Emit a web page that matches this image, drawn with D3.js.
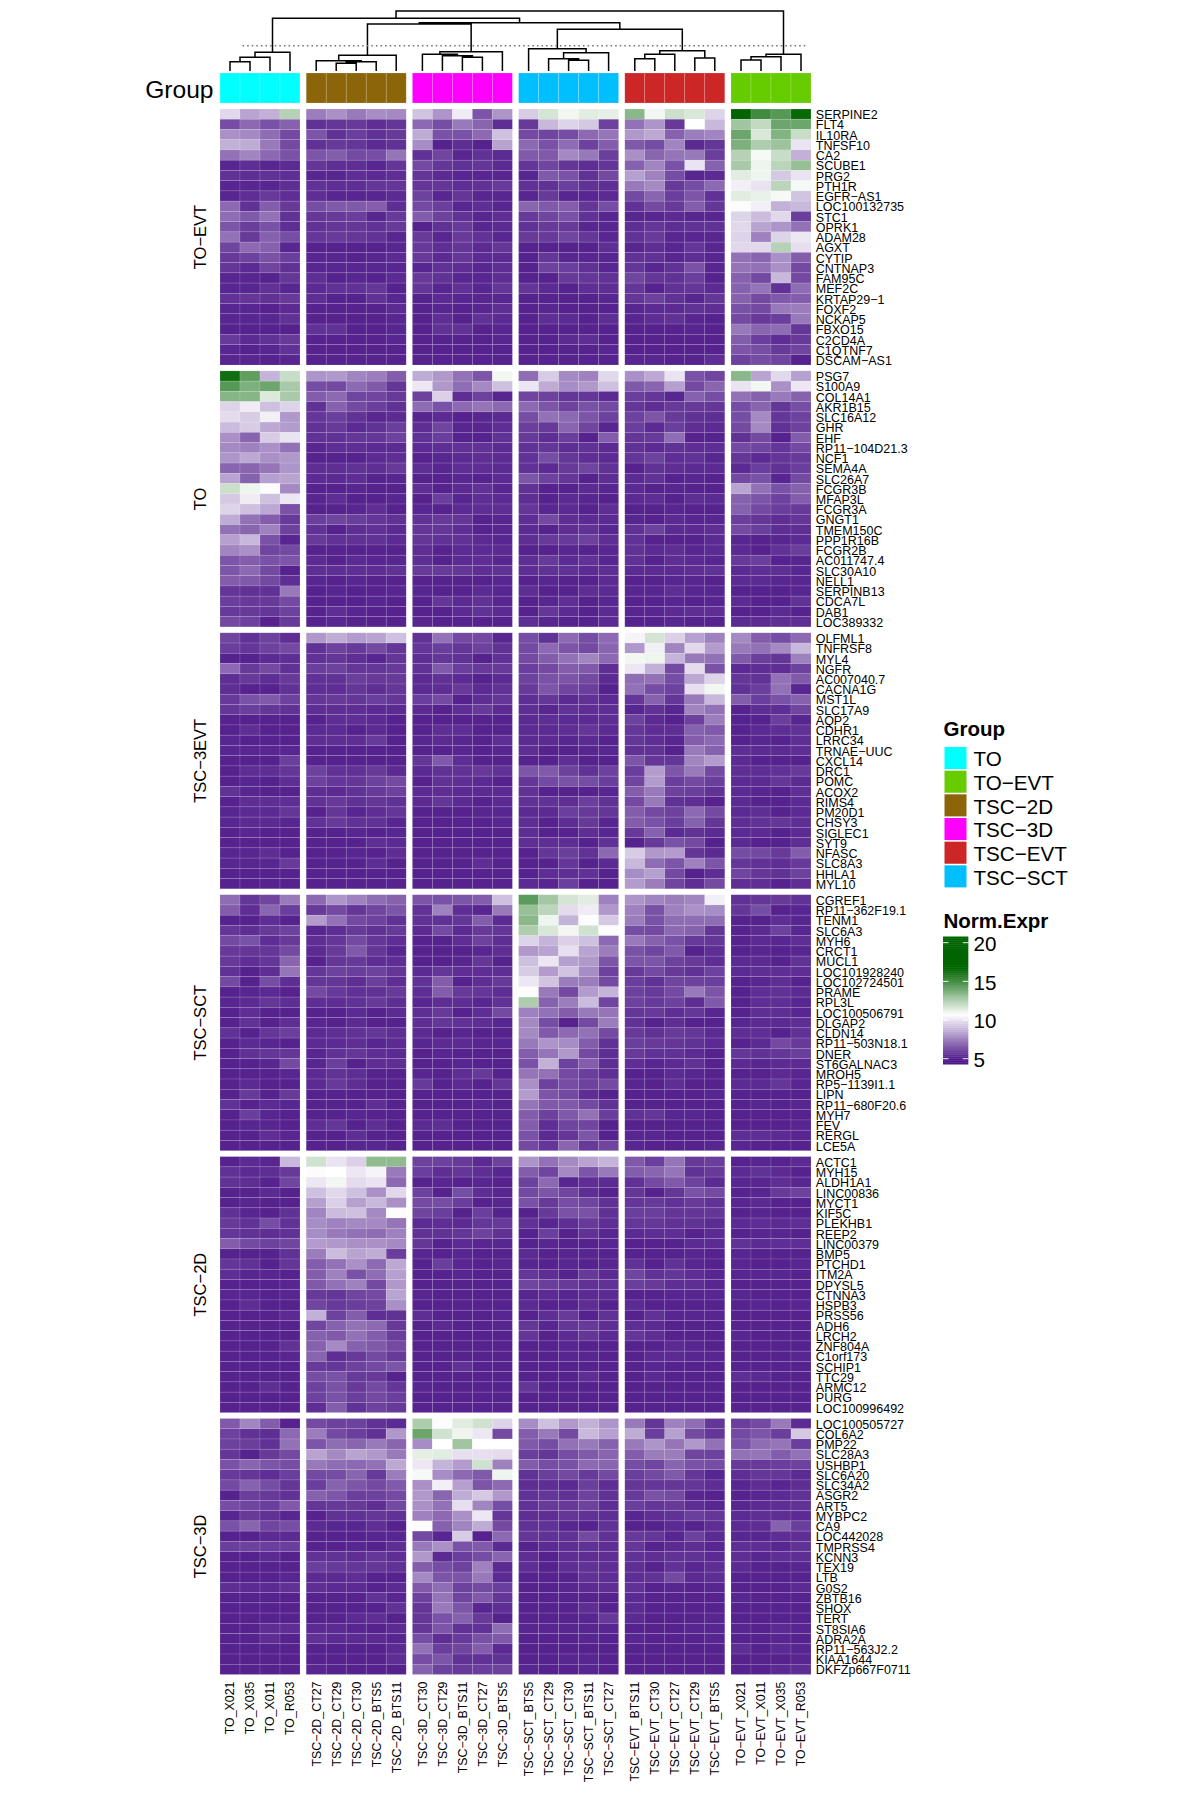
<!DOCTYPE html>
<html>
<head>
<meta charset="utf-8">
<script src="https://cdn.jsdelivr.net/npm/d3@7"></script>
<style>
  html, body { margin: 0; background: #fff; }
  text { font-family: "Liberation Sans", Arial, sans-serif; fill: #000; }
</style>
</head>
<body>
<div id="container"></div>
<script>
"use strict";

const groupNames = ["TO", "TSC−2D", "TSC−3D", "TSC−SCT", "TSC−EVT", "TO−EVT"];
const legendNames = ["TO", "TO−EVT", "TSC−2D", "TSC−3D", "TSC−EVT", "TSC−SCT"];
const groupColors = {
  "TO": "#00FFFF", "TO−EVT": "#66CC00", "TSC−2D": "#8B6508",
  "TSC−3D": "#FF00FF", "TSC−EVT": "#CD2626", "TSC−SCT": "#00BFFF",
};
const groupSamples = [
  ["TO_X021", "TO_X035", "TO_X011", "TO_R053"],
  ["TSC−2D_CT27", "TSC−2D_CT29", "TSC−2D_CT30", "TSC−2D_BTS5", "TSC−2D_BTS11"],
  ["TSC−3D_CT30", "TSC−3D_CT29", "TSC−3D_BTS11", "TSC−3D_CT27", "TSC−3D_BTS5"],
  ["TSC−SCT_BTS5", "TSC−SCT_CT29", "TSC−SCT_CT30", "TSC−SCT_BTS11", "TSC−SCT_CT27"],
  ["TSC−EVT_BTS11", "TSC−EVT_CT30", "TSC−EVT_CT27", "TSC−EVT_CT29", "TSC−EVT_BTS5"],
  ["TO−EVT_X021", "TO−EVT_X011", "TO−EVT_X035", "TO−EVT_R053"],
];

const moduleNames = ["TO−EVT", "TO", "TSC−3EVT", "TSC−SCT", "TSC−2D", "TSC−3D"];

const toEvtGenes = ["SERPINE2","FLT4","IL10RA","TNFSF10","CA2","SCUBE1","PRG2","PTH1R","EGFR−AS1","LOC100132735","STC1","OPRK1","ADAM28","AGXT","CYTIP","CNTNAP3","FAM95C","MEF2C","KRTAP29−1","FOXF2","NCKAP5","FBXO15","C2CD4A","C1QTNF7","DSCAM−AS1"];
const toGenes = ["PSG7","S100A9","COL14A1","AKR1B15","SLC16A12","GHR","EHF","RP11−104D21.3","NCF1","SEMA4A","SLC26A7","FCGR3B","MFAP3L","FCGR3A","GNGT1","TMEM150C","PPP1R16B","FCGR2B","AC011747.4","SLC30A10","NELL1","SERPINB13","CDCA7L","DAB1","LOC389332"];
const evt3Genes = ["OLFML1","TNFRSF8","MYL4","NGFR","AC007040.7","CACNA1G","MST1L","SLC17A9","AQP2","CDHR1","LRRC34","TRNAE−UUC","CXCL14","DRC1","POMC","ACOX2","RIMS4","PM20D1","CHSY3","SIGLEC1","SYT9","NFASC","SLC8A3","HHLA1","MYL10"];
const sctGenes = ["CGREF1","RP11−362F19.1","TENM1","SLC6A3","MYH6","CRCT1","MUCL1","LOC101928240","LOC102724501","PRAME","RPL3L","LOC100506791","DLGAP2","CLDN14","RP11−503N18.1","DNER","ST6GALNAC3","MROH5","RP5−1139I1.1","LIPN","RP11−680F20.6","MYH7","FEV","RERGL","LCE5A"];
const tsc2dGenes = ["ACTC1","MYH15","ALDH1A1","LINC00836","MYCT1","KIF5C","PLEKHB1","REEP2","LINC00379","BMP5","PTCHD1","ITM2A","DPYSL5","CTNNA3","HSPB3","PRSS56","ADH6","LRCH2","ZNF804A","C1orf173","SCHIP1","TTC29","ARMC12","PURG","LOC100996492"];
const tsc3dGenes = ["LOC100505727","COL6A2","PMP22","SLC28A3","USHBP1","SLC6A20","SLC34A2","ASGR2","ART5","MYBPC2","CA9","LOC442028","TMPRSS4","KCNN3","TEX19","LTB","G0S2","ZBTB16","SHOX","TERT","ST8SIA6","ADRA2A","RP11−563J2.2","KIAA1644","DKFZp667F0711"];

// one row per gene, columns in the order drawn
const toEvtValues = [
[9.6,8.3,8.6,12.3,7.3,7.8,7.2,7.7,7.6,9.1,7.9,10.1,6.3,7.9,9.3,11.6,10.9,11.3,11.2,13.3,10.9,11.8,11.5,9.5,17,15,14.5,16.3],
[6.1,6.8,6.2,6.6,5.4,5.5,5.6,5.3,5.5,6.8,6.1,7.2,6.7,5.3,5.6,8.8,9.5,9.2,5.8,7,7.9,5.6,10.6,8.8,12.8,12,14,14],
[7.8,7.6,6.9,6,6.3,5.4,5.7,5.4,5.6,8.5,6.2,6.2,6.8,9,6,5.9,6.1,6.8,7.1,8,8.4,6.6,7.3,7.5,14,11.5,13.5,11.9],
[8.6,8.5,7.2,6,5.4,5.6,5.5,5.2,5.4,7.7,5,5.3,5,8.3,6.8,6.2,6.9,5.8,6.5,6.4,6.1,7.5,5.2,5.5,13.6,12.5,12.9,9.9],
[7,7.5,6.8,6.2,6.3,6.5,6,6.1,7.1,5.4,5.9,5.1,5.4,5.2,6.4,6.4,7.6,7.2,5.7,7.8,6.7,7.1,7.2,5.7,12.3,10.8,11.9,8.6],
[5.1,5.3,5.1,5.2,5.5,5.3,5.3,5.1,5.5,6,5.5,5.4,5.5,5.2,5.5,5.9,5.5,5.3,5.5,6.6,7.5,6.2,9.9,6.6,12.6,11,12.2,13],
[5.4,5.3,5.4,5.3,5.1,5.1,5.3,5.2,5.3,5.5,5.2,5.1,5.1,5.1,5.1,6.4,6.2,5.4,6,8.2,7.4,6.1,5.1,5.2,11.3,11,9.2,9.9],
[5.1,5.1,5.1,5.3,5.4,5.3,5.3,5.5,5.5,5.5,5.5,5.3,5.4,5.6,5.4,5.4,5.7,5.4,5.3,7.2,7.6,5.6,6.1,6.8,10.2,9.9,12.2,10.8],
[5.1,5.3,5.6,5.3,5.3,5.1,5.1,5.1,5.2,5.8,5.1,5.5,5.1,5.1,5.1,5.6,5.1,5.1,5.2,6,6.7,5.7,6.3,5.4,11.3,11.1,10.8,9.1],
[6.8,5.4,6.5,5.6,6.1,6.4,6.4,6.5,5.3,6,5.7,5.1,5.3,5.1,6.7,6.4,6.5,5.5,6.1,5.4,6,5.6,6.5,5.5,10.7,10.2,8.6,8.8],
[6.9,6.4,7,5.4,5.5,5.6,5.7,5.1,5.6,6.5,5.8,5.4,5.1,5.3,5.6,5.9,6.2,5.4,5.1,5.1,5.1,5.2,5.1,5.1,9.5,8.9,9.6,5.7],
[6.3,5.7,6.2,5.3,5.4,5.5,5.5,5.4,5.6,5,5.4,5.6,5.1,5.2,5.4,5.6,5.6,5.1,5.1,5.3,5.5,5.3,5.4,5.4,9.6,8.3,7.9,7],
[7,5.6,6.6,6.1,5.5,5.6,5.5,5.4,5.1,5.6,5.1,5.6,5.4,5.1,5.6,5.6,5.9,5.5,5.1,5.4,5.6,5.1,5.1,5.1,9.5,7.4,9.5,10],
[5.9,6.8,6.6,5.1,5,5,5,5,5.1,5.6,5.3,5.5,5.2,5.5,5,5,5,5,5.3,5.1,5.3,5.1,5.5,5.1,9.6,9.6,12.3,9.8],
[5.6,5.8,6.2,5.7,5.1,5.1,5,5.1,5.2,5.6,5.2,5.5,5.2,5.2,5,5.5,5.1,5.1,5.1,5.4,5.4,5.1,5.3,5.1,7,6.7,7.8,6.5],
[5.5,5.2,5.9,5.4,5.1,5.1,5.1,5.1,5.1,5.1,5.4,5.3,5.1,5.3,5,5.8,5.7,5.4,5.1,5.5,5.1,5.4,6.2,5.1,7.1,7,7.8,6],
[5.1,5.1,5,5.5,5.3,5,5.1,5,5.2,5.6,5.4,5.1,5.1,5.3,5,5,5.6,5.5,5.4,5.9,5.5,5.4,5.7,5,6.6,6,8.8,6],
[5.1,5.1,5.4,5.1,5.2,5.4,5.4,5.5,5,5.5,5.1,5.4,5.1,5.5,5.5,5.2,5,5.3,5.3,5.5,5,5.4,5.5,5.2,6.6,7.1,5.4,6.9],
[5.4,5.5,5.4,5.6,5.3,5,5,5.4,5.1,5,5.2,5.1,5.1,5.1,5,5,5,5,5.1,5.5,5.8,5.4,5.1,5.5,6.6,6,6.4,6.5],
[5.1,5.1,5,5.2,5,5,5,5,5.2,5,5.1,5,5.1,5.3,5,5.1,5,5,5,5.1,5.2,5.2,5.4,5.3,6.2,6,7.2,7.3],
[5.1,5.1,5.1,5.4,5,5,5,5,5.1,5,5.3,5,5.4,5.2,5,5.3,5.2,5,5.3,5.1,5.3,5.4,5.1,5,6,5.6,5.7,7.2],
[5,5,5,5,5.4,5.4,5,5,5.1,5,5.4,5.4,5,5.1,5,5,5,5,5,5,5,5,5.1,5,7.2,6.7,6.9,5.5],
[5.6,5.2,5.4,5.6,5,5,5,5,5.1,5,5,5,5,5.1,5,5,5.2,5.3,5,5,5,5,5,5,6.5,5.7,5.3,5.6],
[5.1,5,5.1,5.4,5,5,5,5,5,5,5,5,5,5,5,5,5,5,5.1,5,5,5,5,5,6.3,6.1,5.6,5.9],
[5.1,5.1,5,5.1,5,5,5,5,5,5,5,5,5,5,5,5,5,5,5,5.1,5.1,5,5,5.3,5.8,6.1,5.9,5],
];
const toValues = [
[16.1,14.3,8.7,11.9,7.9,8,7.5,7.3,6.5,8.5,8,7,6.3,10.9,6.9,9.3,7.6,7.4,9.6,7.8,8.4,9.9,6.2,5.9,13.3,8.3,9.6,8.2],
[14.5,13.6,14,12.6,6.1,6,6.8,6.4,5.5,10,8,6.9,7.6,9,10,8.5,7.7,8,9,6.4,6.7,8.2,6,6.7,9.9,10.9,7.8,10],
[13.4,13.4,11.4,12.6,6.5,6.8,5.9,5.9,5.6,5.8,9.4,5.3,5.8,5.1,5.9,5.8,5.5,5.5,5.2,5.7,5.5,5.1,6.6,6.1,7,6.6,7.2,6.6],
[9.5,10.1,9,9.5,5.4,6.6,6,5.7,5.4,6.9,6.2,6.8,7.1,6.8,6.8,6.3,5.8,6.2,6,5.5,5.3,5.6,5.6,5.5,6.1,6.7,5.5,6.1],
[9.7,9.3,10.2,8,5.5,5.7,5.4,5.1,5.2,5.1,5.2,5,5.1,5.2,6.1,7,6.8,6.3,5.8,5.8,6.3,5.6,5.4,5.3,6.1,7.6,5.5,5.8],
[8.9,9.3,8.4,8.1,5.4,5.6,5.2,5.4,5.7,5.3,5.9,5.1,5.1,5.3,5.7,5.6,6.7,5.9,5.1,5.7,5.2,5.7,5.3,5.2,6,7.6,5.4,5.8],
[7.8,6.7,9.3,9.9,5.4,5.4,5.5,5.5,5.8,5.4,5.7,5,5,5.4,5.6,5.3,5.7,5,6.5,5.5,5.6,6.9,5,5,5.4,6,5,6.5],
[7.6,7.4,7.8,7,5.1,5.3,5.3,5.2,5.2,5.2,5.3,5.4,5.4,5.2,5.4,5.5,5.3,5.4,5.2,5.4,5.2,5.4,5.3,5.3,6,5.9,5.5,6],
[7.9,8.4,7.8,8,5,5,5,5.2,5.3,5,5.1,5.2,5.3,5.2,5.4,6.1,5.5,5.3,5.2,5.5,5.8,5.3,5.4,5.1,5.5,5.2,5.5,5.6],
[6.7,6.7,7.1,7.9,5.3,5.3,5.4,5.3,5.6,5.3,5.1,5.3,5.3,5.2,5.4,5.2,5.6,5.9,5.4,5,5.4,5.3,5.2,5.2,5.2,5.7,5.4,5.7],
[8.3,6.6,8.2,8.3,5.2,5.2,5.3,5,5.1,5,5,5.1,5,5.2,6.3,5.8,5.5,5,5.3,5.2,5.4,5,5.1,5,6,6.2,5.1,6],
[11.8,11,10.7,7.6,5,5,5.1,5,5,5.3,5,5.2,5.4,5.1,5.4,5,5,5.2,5.1,5.2,5,5.1,5,5,8.3,7,6.2,6.6],
[9.2,10.1,9,10,5.1,5.3,5,5,5.1,5,5.7,5.1,5.3,5.2,5.3,5,5.2,5.1,5,5.2,5.3,5,5.3,5.2,6.6,6.3,5.8,6.5],
[9.5,9,8.4,6.2,5,5,5.1,5.3,5,5.1,5,5.2,5.3,5.3,5.5,5.1,5.2,5,5.3,5,5,5.1,5,5,6.6,6,5.7,5.6],
[8.5,7,6.5,5.6,5.7,5.9,5.7,5.5,5.4,5.4,5.6,5.5,5,5.1,5.3,6,5.3,5.2,5.2,5.1,5,5.2,5.1,5.1,5.7,5.5,5.3,5.5],
[7,6.7,7.4,5.8,5.4,5,5.3,5.4,5.2,5.5,5.5,5.3,5,5.1,5.2,5,5.3,5.4,5.1,5.4,5.8,5.2,5.2,5.3,6,5.7,5.3,5.3],
[8.2,8.8,6.2,5.1,5.6,5.4,5.4,5.4,5.2,5.5,5.4,5.4,5.2,5.1,5.3,5.6,5.6,5.8,5.3,5.4,5,5,5,5.2,5.1,5,5.1,5.2],
[7.5,7.8,5.9,6,5,5,5,5,5,5.3,5,5.2,5.2,5.2,5,5,5.1,5,5.1,5.4,5.2,5.3,5.1,5.2,5.2,5,5.4,5.7],
[6.3,6.5,6.2,6.3,5.2,5,5.2,5.1,5.1,5.3,5,5.2,5.3,5.1,5.3,5.6,5.2,5.4,5.1,5.4,5,5.3,5.2,5.1,5.6,5.7,5,5.1],
[6.3,6.8,6,5,5.3,5.3,5.3,5.3,5.4,5.6,5.6,5.5,5.3,5.4,5.3,5.4,5.4,5.2,5.3,5.2,5.2,5.2,5.3,5.4,5.2,5.3,5.3,5.1],
[6.5,6.4,6,5.3,5.1,5,5.1,5,5,5,5,5,5,5.1,5,5.1,5,5,5.2,5,5,5.1,5.1,5,5.2,5.2,5.1,5.1],
[5.5,5.4,5.4,7.2,5,5.1,5,5,5.1,5.1,5,5,5.2,5.1,5.3,5,5,5.3,5.2,5.1,5.1,5.3,5.1,5.1,5,5,5,5.1],
[5.7,5.6,5.6,6,5,5,5,5.1,5,5,5.5,5.2,5.4,5.1,5,5.1,5.3,5,5.1,5,5,5.1,5,5.1,5.2,5,5,5.4],
[5.6,5.6,5.5,5.8,5,5.3,5.1,5,5,5,5,5.2,5.4,5.2,5,5.5,5.2,5,5.2,5.1,5.1,5.2,5.3,5.3,5,5,5.2,5],
[6,5.8,5,5.6,5,5.1,5,5,5,5.1,5,5,5,5,5.3,5.1,5,5,5.2,5,5,5.1,5,5,5.2,5.2,5.3,5.3],
];
const evt3Values = [
[5.9,5.4,5.8,5.3,8,8.5,8.1,8.3,9,5.4,7,6,6,5.1,6.1,5.4,6.8,6.1,6.8,10.3,11.6,9.4,8.2,7.4,7.6,6.5,6.1,6.8],
[5.7,5.5,5.8,6,5.4,5.8,5.6,6,5.5,5.5,5.7,5.5,5.8,5.4,6,6.8,6.3,6,6.7,8,10.2,7.5,9.6,8.1,7.2,7,7.6,8.8],
[5,5,5.2,5.3,5.4,5.5,5.3,5.1,5.5,5.3,5.5,5.4,5,5.4,6,6.5,7,7.5,6.8,10.9,11,8.7,7.2,7,6.4,5.7,5.5,7.4],
[6.8,5.6,6,5.4,5.7,5.8,5.5,5.5,5.6,5.4,6.4,5.7,5.6,5.6,5.7,6,6.5,6.4,5.3,10,8.6,6,9.7,6.2,5.2,5.3,5.3,5.8],
[5.3,5.6,5.3,5.6,5.4,5.4,5.7,5.6,5.6,5.2,5.4,5.2,5,5.2,5.8,6.2,6.3,6,5.2,6.9,7,6.1,8.4,9.5,5.5,5.4,7,6.4],
[5.3,5,5,5.4,5.3,5.3,5.5,5.3,5.5,5.2,5.3,5.6,5.2,5.4,5.6,6.3,5.9,5.7,5,7,6.1,5.8,9.8,10.9,5.4,5.7,7,5.1],
[5.6,6.2,6.4,5.8,5.5,5.6,5.5,5.7,5.5,5.7,6,5,5.3,5.5,5.3,5.5,5.2,5.4,5.2,5.5,6.6,5.5,7.2,8.8,6.5,5.7,6.2,6.6],
[5.5,5.7,5.5,5.4,5.3,5.3,5.3,5.2,5.2,5.2,5,5.3,5.6,5.2,5.3,5.1,5.4,5.3,5.3,5.1,5.4,5.1,7.5,7,5,5.3,5.3,5.9],
[5,5,5,5,5,5.3,5.3,5.2,5,5,5,5,5,5,5.2,5.3,5.2,5.2,5.3,5.8,5.2,5,5.8,7.3,5,5,5.7,5.1],
[5,5.3,5,5,5.2,5.2,5,5.2,5,5,5.3,5.3,5,5,5.2,5.2,5.3,5.5,5.2,5.5,5.3,5.3,6.6,6.4,5,5.2,5.3,5.4],
[5.1,5,5,5,5.3,5.3,5.3,5.6,5,5.1,5.2,5.1,5,5.3,5.2,5.2,5.1,5.2,5,5.5,5.3,5.1,6.5,6.8,5,5.1,5,5.3],
[5.1,5.1,5.1,5.1,5,5,5,5,5,5,5,5.1,5,5.1,5.3,5,5,5.1,5.1,5.4,5.4,5,7.2,6.6,5.3,5.2,5.2,5.3],
[5,5,5,5.7,5,5,5,5,5,5.5,6.4,5.3,5,5,5,5,5.3,5,5,6.3,5.5,5.5,7.5,8.1,5.2,5,5,5],
[5,5.3,5.3,5.5,5.8,5.4,5.4,5.6,5.2,5.2,5.4,5.4,5.6,5.4,6.3,6.4,5.8,5.4,5.8,5.7,8.1,6.3,7.2,6,5.3,5.3,5.4,5.6],
[5,5.1,5,5.3,5.8,5.5,5.5,5.8,6,5,5.4,5.3,5.2,5,5.5,6,6.2,6.1,5.7,5.9,8.1,5.7,6,5.7,5.2,5.2,5.5,5.2],
[5.4,5.1,5,5,5.3,5.2,5.4,5.6,5.8,5.2,5.3,5.2,5.2,5.2,5.4,5,5,5,5.1,6.5,7.2,5.8,5.7,5.4,5.2,5.1,5,5.3],
[5,5.3,5.3,5.3,5.4,5.6,5.4,5.5,5.4,5.2,5.5,5.2,5,5.2,5.4,5.4,5.3,5.7,5.4,6,7.2,5.4,5.3,5,5.2,5,5,5.2],
[5.1,5.2,5.2,5.5,5,5.5,5.1,5.3,5.5,5,5,5,5.1,5.1,5.2,5.2,5.7,5.6,5.5,6.5,6,5.8,6.8,6,5.2,5.3,5,5.2],
[5.1,5.2,5.2,5.1,5.4,5.6,5.4,5.4,5.1,5,5,5,5,5.1,5.3,5,5.3,5.6,5.1,6.5,6.2,5.7,6.6,5.5,5.3,5.4,5.5,5.3],
[5,5.1,5,5,5,5,5.1,5,5.1,5,5,5,5,5,5.3,5,5,5.3,5.1,5.6,6.6,5.2,5.4,5.2,5.2,5.2,5,5.2],
[5,5,5,5,5,5,5,5.3,5.2,5,5,5,5,5,5.3,5.3,5.3,5,5.4,5,5.6,6.2,6,5,5.2,5,5,5.3],
[5.1,5.1,5.3,5,5,5,5.1,5,5.3,5,5,5,5,5,5,5.5,5.7,5.4,6.8,9.3,8,8.1,5.5,5.2,6.1,6,5.6,6.5],
[5.1,5.1,5.1,5.6,5,5,5,5.3,5,5,5,5,5.3,5,5,5,5.5,5,5.2,8.8,6.9,6.3,7.4,6.3,5.5,5.4,5.3,5.6],
[5,5,5,5,5,5,5,5,5,5,5,5,5,5,5,5.3,5.3,5.4,5,7.7,8.2,6,5,5.3,5.9,5.5,5.4,5.8],
[5,5,5,5,5,5,5,5,5,5,5,5,5,5,5.2,5.1,5.7,5,5,8.1,7.3,5.9,5.3,6,5.3,5.3,5,5.3],
];
const sctValues = [
[6.9,5.5,5.9,7.2,6.8,7.9,7.4,6.9,6.6,6.3,6.2,6.3,6.5,9,14.4,12.7,11.6,11.3,7.4,7.9,7.5,7.3,7.5,10.2,5.4,5.5,5.6,5.4],
[6.5,5.3,6.7,5.7,5.6,6,5.5,5.9,6.3,5.4,7.4,5.3,5.1,7.2,13,12.2,9.7,10.1,8,7.4,6.2,7.4,7.8,7.7,5.5,6.1,5,5.1],
[5,5,5.3,5,8.1,7,6,5.8,5.4,5.4,5.4,5.5,6.5,5.2,13.3,11,8.7,10.5,9.2,7.3,6.2,6.9,6.9,6.9,5,5,5.3,5.1],
[5.5,5.3,5.6,5.8,5.1,5.3,5.6,5.4,5.6,5.2,6,5.2,5.6,5.5,12.5,11.5,10.9,11.7,10.7,6.1,6,6.8,6.6,5.5,5,5.2,5.8,5.1],
[6,6.2,5.3,5.6,5.3,5.5,6,5.5,5.3,5,5,5.3,5.8,5.3,9.5,8.7,9.4,9,6.8,7.2,6.6,6.2,5.6,5.5,5,5.2,5.1,5.3],
[5.6,5.5,5.5,6,5.2,5.6,6.4,5.5,5.1,5,5,5,5.1,5.3,8,8.3,9.8,8.3,7.3,6.2,5.9,6.4,5,5.3,5,5.1,5,5.1],
[5.6,5.3,5.5,6.7,5,5.5,5.6,5.3,5.3,5,5,5.1,5.5,5,9,10,8.2,8,6.3,6.3,6.3,5.8,5.6,5.3,5.2,5.2,5,5.4],
[5.4,5,5.3,7.1,5.5,5.8,5.7,5.8,5.5,5.2,5.5,5.3,5.3,5.3,9.3,8.1,9.1,7.7,5.8,5.6,6,5.6,5.4,5.8,5.2,5.3,5.3,5.3],
[6,5,6.1,5.3,5.5,5.5,5.3,5.7,5.3,5.4,6.5,5,5.3,5.6,10,9.1,7.3,7.3,6,5.7,5.4,5.9,5.8,5.7,5,5.1,5.3,5],
[5,5.1,5.2,5,6,5.6,5.4,5.4,5.6,5.3,6.5,5.6,5.5,5.3,10.7,7.2,6,8.1,8.7,5.8,5.6,6,7.2,6.3,5,5.3,5.4,5.2],
[5.1,5.2,5.5,5.3,5.3,5.3,5.4,5.6,5.3,5.1,5.3,5.3,5.1,5.4,12.5,6.6,7.3,8.9,5.9,5.8,5.6,5.8,5.3,6.4,5,5.3,5.3,5.1],
[5,5.3,5,5,5,5,5.2,5,5.2,5.3,5.6,5,5.3,6,7.4,7,6.5,7.2,7.1,5.5,5.6,5.3,5.5,5.1,5,5.3,5.3,5.1],
[5,5.4,5,5.3,5.1,5,5.2,5,5,5.3,5.5,5.4,5.3,5.1,7.6,6.1,5,6,7.3,5.4,5,5.3,5,5,5.1,5.2,5.2,5.3],
[5.4,5,5.5,5.7,5.2,5.3,5.4,5.5,5.3,5.2,5,5.1,5,5,7.6,6.4,6.8,7,6,5.6,5.4,5.6,5.5,5.2,5.3,5.3,5,5.4],
[5,5.2,5.1,5,5.2,5.2,5.3,5.1,5.2,5.1,5.2,5.2,5.1,5.1,7.2,7.9,7.7,6.5,5.4,5.7,5.6,5.5,5.4,5.2,5,5.2,6,5.6],
[5,5.4,5.5,5.5,5.1,5.4,5.5,5.3,5.2,5,5.1,5,5,5,6.5,7.1,8,6,5.3,5.6,5.4,5.4,5.2,5,5.5,5.4,5.5,5.7],
[5,5,5.1,6,5.1,5.7,5,5.3,5.3,5,5,5.1,5,5,6.2,8.6,5.8,6.5,5.3,5.3,5.1,5.2,5.4,5,5.2,5.1,5.2,5.2],
[5,5,5,5.1,5.2,5.4,5.3,5,5,5.1,5,5.3,5.6,5,7.1,7,6,5.7,5.3,5,5,5.2,5.1,5,5,5,5.2,5.1],
[5,5.2,5,5,5.2,5.6,5.3,5,5,5.6,5,5.2,5,5.5,7.8,5.8,6.1,5.8,6,5.1,5,5.3,5,5,5.2,5.2,5.5,5.1],
[5,5.6,5,5.6,5,5,5,5,5,5,5,5,5,5,8.1,6.3,6,5.3,5,5,5,5,5,5.1,5,5,5,5],
[5.4,5,5.2,5.1,5,5,5,5.3,5,5,5,5,5.1,5,7.1,6.4,6.4,6,5.4,5,5,5,5,5,5,5.1,5,5.1],
[5,5.7,5.1,5,5,5,5.1,5,5,5,5,5,5,5,6.5,5.8,6.4,7,5.7,5.4,5.5,5.1,5.1,5,5,5,5,5],
[5,5.1,5.1,5,5.3,5.5,5,5.3,5,5.2,5.3,5,5,5,6.5,5.3,5.9,5.9,5,5,5,5,5,5,5,5,5,5.1],
[5,5,5.3,5.1,5,5,5.3,5,5,5,5,5,5,5,6.2,5.2,5.5,6.3,5,5.1,5.1,5,5,5,5.3,5.3,5.2,5.1],
[5,5,5,5,5,5,5.1,5.1,5,5,5,5,5,5,6,5.5,6.7,5.6,5.9,5.1,5,5,5,5.1,5.1,5,5,5],
];
const tsc2dValues = [
[5,5.2,5.1,8.8,11.7,9.9,9.4,13.2,13.2,5.8,5.8,5.6,5.2,5.8,7.9,7,7.6,8.3,8.7,6.4,5.7,7.1,5.6,5.7,5,5.1,5,5.2],
[5.4,5.2,5.3,5.6,10.7,10.6,10,10.3,7.2,5.7,5.3,5.5,5.3,5.1,6.5,5.9,7.6,6.3,7.2,6.5,6.7,7.1,5.4,5.6,5.2,5.4,5.2,5],
[5.4,5.3,5,5.9,10,10.9,9.7,9.9,6.8,5,5.1,5,5.1,5,5.8,6.8,5.1,5.3,5.2,5.4,6,6.4,5.8,5.2,5.1,5.1,5.3,5.1],
[5,5,5.2,5,9,9.6,9,7.8,9.6,5.8,5,6.1,5.3,5.1,6,6.3,5.9,5.3,5,5.5,5,5.5,6.2,6,5,5.1,5.6,5.8],
[5,5.1,5,5,8.2,9.4,8.2,8.8,7.8,6,6.1,5.7,5,5.1,6.2,5.6,6.1,5.9,5.4,5.5,5.6,5.4,5.6,5.4,5.1,5.2,5,5],
[5.4,5.1,5,5.4,7.5,8.9,9,7.6,10.7,5.9,5.7,5,5.7,5,5,5.6,6.2,6.2,5.4,5.7,5.7,5.5,5.5,5.5,5,5.1,5,5],
[5.6,5.4,6.1,5.4,7.7,7.4,7.6,7.6,7.1,5.2,5.3,5.2,5.5,5.6,5.4,5.1,5.3,5.6,5.3,5.5,5.5,5.4,5.4,5.2,5.2,5.3,5.2,5.3],
[5.5,5.4,5.3,5.4,7.7,7.2,7,6.9,7.4,5.4,5.4,5.5,5.8,5.4,5,5.7,5,5.4,5.1,5.2,5.3,5.3,5,5.2,5,5.1,5.1,5],
[6.5,6,5.8,5.9,8.1,8,7.8,7.8,7.6,5.5,5,5.2,5.1,5.1,5,5.1,5,5,5.1,5,5,5,5.2,5.2,5.4,5.2,5.3,5.3],
[5,5,5,5.4,7.3,8.9,8.3,8.5,5.7,5.1,5,5.1,5,5,5.2,5,5.1,5.1,5,5,5,5,5.1,5,5.1,5,5,5],
[5.5,5.4,5,5.5,6.5,7,7.8,6.8,8.4,5,5.7,5.1,5,5.1,5.1,5,5.1,5,5.1,5.4,5,5.4,5.1,5,5.1,5,5,5.1],
[5.3,5.1,5.1,5,6.5,7.4,6.2,6.9,8.2,5,5,5.1,5,5,5.5,5.3,5,5.6,5.2,5.9,5.4,5.5,5.3,5.1,5.1,5.1,5.1,5],
[5,5,5,5.1,6.4,7,7.4,6,8,5,5,5,5,5,5.9,5.7,5.6,5.4,5.4,5.7,5.6,5.3,5.3,5.1,5,5,5,5],
[5.1,5.1,5,5.1,5.6,5.5,5.9,6,8.3,5.1,5,5,5,5,5.1,5.2,5.1,5.2,5.2,5,5,5.1,5.1,5.1,5.1,5,5,5],
[5,5.3,5,5,5.9,5.6,5.7,5.8,7.8,5,5,5,5,5,5.2,5,5,5.3,5,5.2,5,5,5,5,5,5.1,5,5.1],
[5,5,5,5.2,8.6,5.8,6.5,5.3,5.4,5.3,5,5,5,5.1,5,5.3,5.6,5,5.4,5,5.4,5.1,5.1,5.1,5,5,5,5],
[5,5,5,5,5.9,6.6,7,6.8,5.6,5,5.2,5,5,5.1,5.5,5.1,5.5,5.6,5.3,5.3,5.2,5,5,5,5,5,5,5],
[5,5,5,5,6.6,6.4,7,6.5,5.7,5,5,5,5,5,5.5,5,5.2,5.5,5.2,5.5,5.3,5,5,5,5.1,5,5,5],
[5,5,5,5.4,6.6,7.6,6.6,6.4,6,5,5,5,5,5,5,5,5.1,5,5,5,5,5.2,5.1,5,5,5,5,5],
[5,5,5,5.1,6.7,5.3,5.6,6,5.6,5,5,5,5,5,5,5,5.1,5.1,5,5,5.2,5.2,5.1,5.1,5,5,5,5.1],
[5,5,5,5,5.6,5.5,5.8,6,6.3,5,5,5.4,5,5,5,5,5,5,5,5,5.1,5,5,5,5,5,5,5],
[5,5,5,5,6.1,6.2,5.6,5.6,5,5,5,5,5,5,5,5,5,5.3,5,5,5.2,5,5,5,5.3,5.2,5,5],
[5,5,5.3,5,5.8,6.2,5.6,6,5.5,5.1,5,5,5,5,5.5,5,5,5,5,5,5,5,5,5,5,5,5,5],
[5,5,5,5,5.8,6.2,5.7,6,5.7,5,5,5,5,5,5,5,5,5,5,5,5,5,5,5,5,5,5,5],
[5,5,5,5,5.3,6.5,5.4,5.8,5.6,5,5,5,5,5,5,5,5,5,5,5,5,5,5,5,5,5,5,5],
];
const tsc3dValues = [
[6.4,7.5,6.5,5,6,5.8,5.8,5.4,5.2,12.5,10.7,11.3,11.7,9.5,7.7,9,8,8.6,7.9,7.2,5.5,7.4,6.9,5.5,5.7,6,7.2,5.2],
[5.8,5.4,5.3,6.8,7.3,6,5.7,5.4,8,14,11.7,11,10,6,6.5,7.2,6,8.8,8.2,8.5,5.7,8.2,6,5.5,6,6.3,5.7,9.2],
[5.8,5.7,5.4,7,6.3,6.9,6.7,7.2,6.7,7.7,10.6,12.8,10.6,10.6,6.4,6.1,7,7.2,6.6,7.2,7.9,7.1,8,7,6.2,6.9,7.1,5.7],
[5.5,5,5.6,6,8.3,7.6,8.3,8,7.2,11.2,11.3,9.8,9.8,9.7,5.7,5.5,6.1,6.4,6.7,6.5,7.3,7.3,5.9,5.8,7,7.1,6.5,7],
[6.2,6.7,6.3,6.1,7.2,6.9,6.8,7,8.4,10,8.7,8.1,11.7,7.4,6.5,6.1,6.2,6.8,6.7,6.1,5.9,6.7,6.2,6.1,5.6,5.6,5.7,5.8],
[5.6,5.5,5.3,5.7,6,6.1,6.7,5.6,7.3,10.8,7.7,6.8,6.4,11,5.4,5.7,6,5.6,6,5.7,6,6.4,5.5,5.1,5.3,5.5,5.5,5.2],
[6,6.6,6.1,5.5,5.7,6.6,6.3,6,6.4,7.8,10.2,8.2,6.3,6.8,5.3,5.3,5.2,5.7,5.3,5.5,5.5,5.5,5.5,5.3,5.1,5.3,5.1,5.3],
[5,5.7,5.6,5.4,6.6,6.3,5.7,5.8,6,8,6.7,8.5,9.2,8,5.4,5.5,5.4,5.8,5.4,5.6,6.2,6,5.1,5,5,5.1,5.2,5.4],
[6.1,5.9,5.7,6.4,5.5,5.6,5.6,5.3,6,7.8,7,9.8,7.5,6.1,5.4,5.6,5.6,5.8,5.3,5.7,5.5,5.6,5.3,5.1,5.1,5.2,5.3,5.4],
[5.1,5.6,5.4,5.1,5,5.4,5.4,5.5,5.4,7.4,6.8,7.8,10,5.5,5.3,5.3,5.5,5.4,5.3,5.1,5.3,5.4,5.7,5.5,5.2,5.3,5.3,5.2],
[6.2,6.7,5.9,6.1,5.2,5.1,5.1,5.3,5,10.7,6.6,7.5,8.5,6,5.4,5.4,5.1,5,5.4,5,5,5.2,5,5.3,5.2,5.3,6.6,5.7],
[5,5,5.2,5.2,5,5,5,5.1,5.1,6,5.1,9.3,5,6.8,5.5,5.4,5.4,6,5.4,5.6,5.5,5.1,5.8,5.2,5.1,5.1,5.3,5.3],
[5.7,5.8,5.7,5.7,5,5,5.1,5,5.3,7.2,7.8,6.2,6.4,5.2,5,5.2,5.3,5.4,5.3,5.5,5,5.2,5.3,5.1,5.3,5.3,5.1,5.4],
[5,5,5.2,5,5.4,5.4,5.3,5.5,5.3,8,5.2,5.7,6.1,6.7,5.3,5,5.3,5.3,5.3,5.4,5.3,5.4,5.4,5.2,5.3,5.1,5.3,5.3],
[5,5,5,5,5.7,5.6,5.5,5.5,5.4,6.5,6.1,5.8,7.4,5.2,5.3,5,5.3,5.4,5.3,5.3,5,5.4,5.1,5.3,5.2,5,5,5.1],
[5,5,5,5.1,5.2,5.2,5.3,5,5,7.6,6.3,6.3,7.2,5.2,5,5,5,5.4,5.3,5.3,5.4,6,5.2,5.3,5,5,5,5],
[5.3,5.2,5.2,5.4,5.3,5.2,5.2,5,5.2,6.4,6.9,5.8,6,5.7,5,5,5.1,5.2,5.3,5.4,5,5.1,5,5.1,5,5,5,5.2],
[5,5,5,5,5,5,5,5.4,5.1,5.8,7.1,5.9,6.4,5.5,5,5,5,5,5,5.2,5,5,5,5,5.1,5,5,5],
[5,5,5,5,5,5,5,5,5.4,5.5,7.2,6.3,5.1,5.3,5,5,5,5.3,5,5.2,5,5,5,5,5,5,5,5],
[5,5,5,5,5,5,5.2,5.3,5,5.5,6.2,6.6,5.6,5,5,5,5,5.1,5.6,5.2,5,5,5,5.1,5,5,5,5],
[5,5,5.3,5.3,5.2,5.2,5.1,5,5.2,5.5,6.3,5.4,5.4,6.9,5.1,5.1,5.1,5.1,5.1,5,5,5,5.1,5.1,5.1,5,5.2,5.1],
[5,5,5.3,5,5.4,5.2,5.2,5.2,5.1,6.1,5.3,5.6,6.2,6.4,5,5,5,5.1,5,5.1,5,5,5,5.1,5,5,5.1,5],
[5,5,5,5,5,5,5,5,5.2,7,5.7,5.9,6.5,5.2,5,5,5,5,5,5,5,5,5,5,5.3,5,5.2,5.1],
[5,5,5,5,5,5,5,5,5.3,6.1,6.3,5.4,5.4,5.4,5,5,5.1,5.1,5,5,5,5,5,5,5,5,5,5.1],
[5,5,5,5,5.1,5,5,5,5,6.6,5.8,5.6,5.7,5.8,5.1,5,5,5.1,5,5,5,5,5,5,5,5,5.2,5.3],
];

const moduleGenes = [toEvtGenes, toGenes, evt3Genes, sctGenes, tsc2dGenes, tsc3dGenes];
const moduleValues = [toEvtValues, toValues, evt3Values, sctValues, tsc2dValues, tsc3dValues];

// merges written like hclust: negative = sample (1-based), positive = earlier merge
const dendroMerges = [
  [-1,-2,28],[1,-3,41],[2,-4,56],
  [-6,-7,23],[4,-8,28],[-5,5,31],[6,-9,47],
  [-12,-13,41],[-11,8,46],[-10,9,50],[10,-14,58],[7,11,141],
  [-17,-18,32],[-16,13,37],[14,-19,55],[-15,15,67],
  [-20,-21,37],[17,-22,50],[-23,-24,39],[18,19,61],[16,20,125],
  [12,21,145],[3,22,158],
  [-25,-26,33],[24,-27,43],[25,-28,50],[23,26,180],
];
const dendroCut = 76;

const legendTicks = [5, 10, 15, 20];

const width = 1200;
const height = 1800;
const plotLeft = 220;
const cellWidth = 20;
const groupGap = 6.2;
const blockTop = 109;
const blockHeight = 256;
const blockStep = 261.9;

const svg = d3.select("#container").append("svg")
  .attr("width", width).attr("height", height);

const colorScale = d3.scaleLinear()
  .domain([4.8, 10.6, 16.5])
  .range(["#4f1a8a", "#ffffff", "#006400"])
  .clamp(true);

// columns across groups
const columns = [];
groupSamples.forEach((samples, g) => {
  samples.forEach((name) => columns.push({ name, group: groupNames[g], g }));
});
const colScale = d3.scaleLinear().domain([0, 1]).range([plotLeft, plotLeft + cellWidth]);
const xCol = (i) => colScale(i) + columns[i].g * groupGap;

// dendrogram
const dendroY = d3.scaleLinear().domain([0, 180]).range([71, 11]);
const nodes = [];
const nodePos = (id) =>
  id < 0 ? { x: xCol(-id - 1) + cellWidth / 2, h: 0 } : nodes[id - 1];

const dendroPath = d3.path();
dendroMerges.forEach(([a, b, h]) => {
  const l = nodePos(a);
  const r = nodePos(b);
  dendroPath.moveTo(l.x, dendroY(l.h));
  dendroPath.lineTo(l.x, dendroY(h));
  dendroPath.lineTo(r.x, dendroY(h));
  dendroPath.lineTo(r.x, dendroY(r.h));
  nodes.push({ x: (l.x + r.x) / 2, h });
});
svg.append("path")
  .attr("d", dendroPath.toString())
  .attr("fill", "none")
  .attr("stroke", "#000")
  .attr("stroke-width", 1.5);

svg.append("line")
  .attr("x1", 242.5).attr("x2", 808)
  .attr("y1", dendroY(dendroCut)).attr("y2", dendroY(dendroCut))
  .attr("stroke", "#777")
  .attr("stroke-width", 1.5)
  .attr("stroke-dasharray", "1.6 3");

// group annotation
svg.append("g").selectAll("rect")
  .data(columns)
  .enter()
  .append("rect")
  .attr("x", (d, i) => xCol(i))
  .attr("y", 73)
  .attr("width", cellWidth)
  .attr("height", 30)
  .attr("fill", (d) => groupColors[d.group])
  .attr("stroke", "rgba(255,255,255,0.3)")
  .attr("stroke-width", 0.6);

svg.append("text")
  .attr("x", 213.5)
  .attr("y", 98)
  .attr("text-anchor", "end")
  .style("font-size", "24.6px")
  .text("Group");

// heatmap blocks
moduleNames.forEach((title, m) => {
  const top = blockTop + m * blockStep;
  const yScale = d3.scaleBand()
    .domain(moduleGenes[m])
    .range([top, top + blockHeight]);
  const block = svg.append("g");

  moduleValues[m].forEach((row, r) => {
    block.append("g").selectAll("rect")
      .data(row)
      .enter()
      .append("rect")
      .attr("x", (d, i) => xCol(i))
      .attr("y", yScale(moduleGenes[m][r]))
      .attr("width", cellWidth)
      .attr("height", yScale.bandwidth())
      .attr("fill", (d) => colorScale(d))
      .attr("stroke", "rgba(255,255,255,0.2)")
      .attr("stroke-width", 0.6);
  });

  block.append("g").selectAll("text")
    .data(moduleGenes[m])
    .enter()
    .append("text")
    .attr("x", 815.8)
    .attr("y", (d) => yScale(d) + yScale.bandwidth() / 2 + 0.6)
    .attr("dy", "0.36em")
    .style("font-size", "12.5px")
    .text((d) => d);

  block.append("text")
    .attr("text-anchor", "middle")
    .attr("transform", `translate(205.5, ${top + blockHeight / 2}) rotate(-90)`)
    .style("font-size", "16.5px")
    .text(title);
});

// sample labels
svg.append("g").selectAll("text")
  .data(columns)
  .enter()
  .append("text")
  .attr("text-anchor", "end")
  .attr("dy", "0.36em")
  .attr("transform", (d, i) =>
    `translate(${xCol(i) + cellWidth / 2}, 1681.5) rotate(-90)`)
  .style("font-size", "12.4px")
  .text((d) => d.name);

// group legend
svg.append("text")
  .attr("x", 943.5).attr("y", 735.5)
  .style("font-size", "20.5px").style("font-weight", "bold")
  .text("Group");

const legendY = d3.scaleBand()
  .domain(legendNames)
  .range([747, 889]);

svg.append("g").selectAll("rect")
  .data(legendNames)
  .enter()
  .append("rect")
  .attr("x", 944.5)
  .attr("y", (d) => legendY(d))
  .attr("width", 22)
  .attr("height", legendY.bandwidth() - 1.6)
  .attr("fill", (d) => groupColors[d]);

svg.append("g").selectAll("text")
  .data(legendNames)
  .enter()
  .append("text")
  .attr("x", 973.5)
  .attr("y", (d) => legendY(d) + legendY.bandwidth() / 2)
  .attr("dy", "0.36em")
  .style("font-size", "20.6px")
  .text((d) => d);

// colour legend
svg.append("text")
  .attr("x", 943.5).attr("y", 927.5)
  .style("font-size", "20.5px").style("font-weight", "bold")
  .text("Norm.Expr");

const barScale = d3.scaleLinear().domain([5, 20]).range([1058.7, 942.7]);
const barStep = 0.25;
svg.append("g").selectAll("rect")
  .data(d3.range(4.3, 20.6, barStep))
  .enter()
  .append("rect")
  .attr("x", 943)
  .attr("y", (d) => barScale(d + barStep))
  .attr("width", 25.3)
  .attr("height", (d) => barScale(d) - barScale(d + barStep) + 0.4)
  .attr("fill", (d) => colorScale(d));

const tickGroup = svg.append("g").selectAll("g")
  .data(legendTicks)
  .enter()
  .append("g");
[[943, 948.5], [962.8, 968.3]].forEach(([x1, x2]) => {
  tickGroup.append("line")
    .attr("x1", x1).attr("x2", x2)
    .attr("y1", (d) => barScale(d)).attr("y2", (d) => barScale(d))
    .attr("stroke", "#fff")
    .attr("stroke-width", 0.9);
});
tickGroup.append("text")
  .attr("x", 973.5)
  .attr("y", (d) => barScale(d) + 1)
  .attr("dy", "0.36em")
  .style("font-size", "20.6px")
  .text((d) => d);
</script>
</body>
</html>
